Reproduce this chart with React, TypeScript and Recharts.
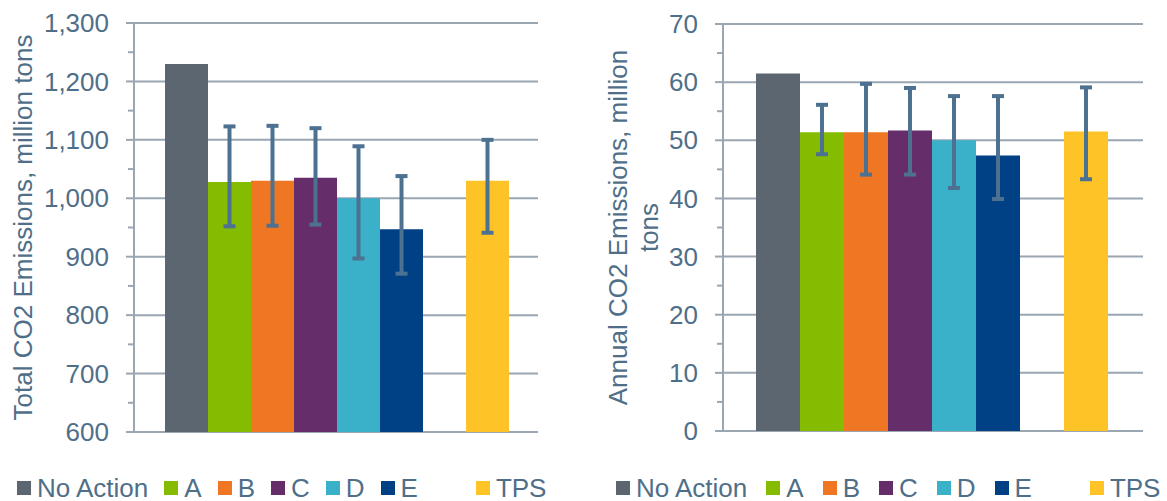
import React from 'react';
import { BarChart, Bar, XAxis, YAxis, CartesianGrid, ErrorBar, Legend } from 'recharts';

// series in drawing order; the empty one is the spacer slot before TPS
const seriesNames = ['No Action', 'A', 'B', 'C', 'D', 'E', '', 'TPS'];
const seriesColors = ['#5c6670', '#85bb00', '#ef7622', '#652d6a', '#3bb0c9', '#004085', 'none', '#fec326'];

const totalValues = [1230, 1028, 1030, 1035, 1000, 947, null, 1030];
const totalLow = [null, 952, 953, 955, 897, 871, null, 941];
const totalHigh = [null, 1123, 1124, 1120, 1089, 1038, null, 1100];
const totalTicks = [600, 650, 700, 750, 800, 850, 900, 950, 1000, 1050, 1100, 1150, 1200, 1250, 1300];

const annualValues = [61.5, 51.4, 51.4, 51.7, 50.0, 47.4, null, 51.5];
const annualLow = [null, 47.6, 44.1, 44.1, 41.8, 39.9, null, 43.3];
const annualHigh = [null, 56.1, 59.7, 59.0, 57.6, 57.6, null, 59.1];
const annualTicks = [0, 5, 10, 15, 20, 25, 30, 35, 40, 45, 50, 55, 60, 65, 70];

const gridColor = '#9aa6b2';
const textColor = '#4f6f89';
const errColor = '#4d7190';
const font = '"Liberation Sans", Arial, sans-serif';

const buildRow = (values: (number | null)[], low: (number | null)[], high: (number | null)[]) => {
  const row: any = { name: 'all' };
  values.forEach((v, i) => {
    row[`s${i}`] = v;
    if (v != null && low[i] != null && high[i] != null) {
      row[`e${i}`] = [v - (low[i] as number), (high[i] as number) - v];
    }
  });
  return [row];
};

// only every other tick (the labelled ones) gets a gridline
const gridLine = (p: any) =>
  p.index % 2 === 0 ? (
    <line key={`gl-${p.index}`} x1={p.x1} y1={p.y1} x2={p.x2} y2={p.y2} stroke={gridColor} strokeWidth={2} />
  ) : (
    <g key={`gl-${p.index}`} />
  );

const makeTick = (majorStep: number) => (props: any) => {
  const { x, y, payload } = props;
  const v = payload.value;
  const major = v % majorStep === 0;
  return (
    <g>
      <line x1={x - (major ? 8 : 6)} x2={x} y1={y} y2={y} stroke={gridColor} strokeWidth={2} />
      {major && (
        <text x={x - 25} y={y} dy="0.35em" textAnchor="end" fill={textColor} fontSize={26} fontFamily={font}>
          {v.toLocaleString('en-US')}
        </text>
      )}
    </g>
  );
};

const LegendRow = ({ pad, gap, spacer }: { pad: number; gap: number; spacer: number }) => (
  <div
    style={{
      display: 'flex',
      alignItems: 'center',
      height: 30,
      paddingLeft: pad,
      fontFamily: font,
      fontSize: 26,
      color: textColor,
      whiteSpace: 'nowrap',
    }}
  >
    {seriesNames.map((s, i) =>
      s === '' ? (
        <div key={i} style={{ width: spacer, marginRight: gap, flexShrink: 0 }} />
      ) : (
        <div key={i} style={{ display: 'flex', alignItems: 'center', marginRight: gap, flexShrink: 0 }}>
          <span style={{ display: 'inline-block', width: 14, height: 14, background: seriesColors[i], marginRight: 6 }} />
          <span style={{ lineHeight: '30px' }}>{s}</span>
        </div>
      )
    )}
  </div>
);

interface PanelProps {
  width: number;
  values: (number | null)[];
  low: (number | null)[];
  high: (number | null)[];
  ticks: number[];
  majorStep: number;
  margin: { top: number; right: number; left: number; bottom: number };
  axisWidth: number;
  categoryGap: number;
  titleLines: { text: string; x: number }[];
  legend: { pad: number; gap: number; spacer: number };
}

const Panel = (p: PanelProps) => {
  const data = buildRow(p.values, p.low, p.high);
  const renderTitle = (lp: any) => {
    const vb = lp.viewBox || {};
    const cy = (vb.y || 0) + (vb.height || 0) / 2;
    return (
      <g>
        {p.titleLines.map((t) => (
          <text
            key={t.text}
            x={t.x}
            y={cy}
            transform={`rotate(-90 ${t.x} ${cy})`}
            textAnchor="middle"
            fill={textColor}
            fontSize={26}
            fontFamily={font}
          >
            {t.text}
          </text>
        ))}
      </g>
    );
  };
  return (
    <BarChart
      width={p.width}
      height={501}
      data={data}
      margin={p.margin}
      barGap={0}
      barCategoryGap={p.categoryGap}
    >
      <CartesianGrid vertical={false} horizontal={gridLine} />
      <XAxis dataKey="name" height={0} tick={false} tickLine={false} axisLine={{ stroke: gridColor, strokeWidth: 2 }} />
      <YAxis
        type="number"
        domain={[p.ticks[0], p.ticks[p.ticks.length - 1]]}
        ticks={p.ticks}
        interval={0}
        width={p.axisWidth}
        tickSize={0}
        tickMargin={0}
        tickLine={false}
        axisLine={{ stroke: gridColor, strokeWidth: 2 }}
        tick={makeTick(p.majorStep)}
        label={renderTitle}
      />
      <Legend
        verticalAlign="bottom"
        content={() => <LegendRow {...p.legend} />}
        wrapperStyle={{ left: 0, top: 473, bottom: 'auto', width: p.width, height: 30 }}
      />
      {seriesNames.map((s, i) => (
        <Bar key={i} dataKey={`s${i}`} name={s || 'blank'} fill={seriesColors[i]} isAnimationActive={false}>
          {p.low[i] != null && (
            <ErrorBar dataKey={`e${i}`} direction="y" width={6} stroke={errColor} strokeWidth={4} isAnimationActive={false} />
          )}
        </Bar>
      ))}
    </BarChart>
  );
};

export default function App() {
  return (
    <div style={{ display: 'flex', width: 1167, height: 501, background: '#fff' }}>
      <style>{'body{margin:0}'}</style>
      <Panel
        width={583}
        values={totalValues}
        low={totalLow}
        high={totalHigh}
        ticks={totalTicks}
        majorStep={100}
        margin={{ top: 23, right: 45, left: 0, bottom: 39 }}
        axisWidth={134}
        categoryGap={31}
        titleLines={[{ text: 'Total CO2 Emissions, million tons', x: 32 }]}
        legend={{ pad: 17, gap: 16, spacer: 26 }}
      />
      <Panel
        width={584}
        values={annualValues}
        low={annualLow}
        high={annualHigh}
        ticks={annualTicks}
        majorStep={10}
        margin={{ top: 24, right: 24, left: 0, bottom: 40 }}
        axisWidth={140}
        categoryGap={33}
        titleLines={[
          { text: 'Annual CO2 Emissions, million', x: 44 },
          { text: 'tons', x: 75 },
        ]}
        legend={{ pad: 33, gap: 19, spacer: 20 }}
      />
    </div>
  );
}
